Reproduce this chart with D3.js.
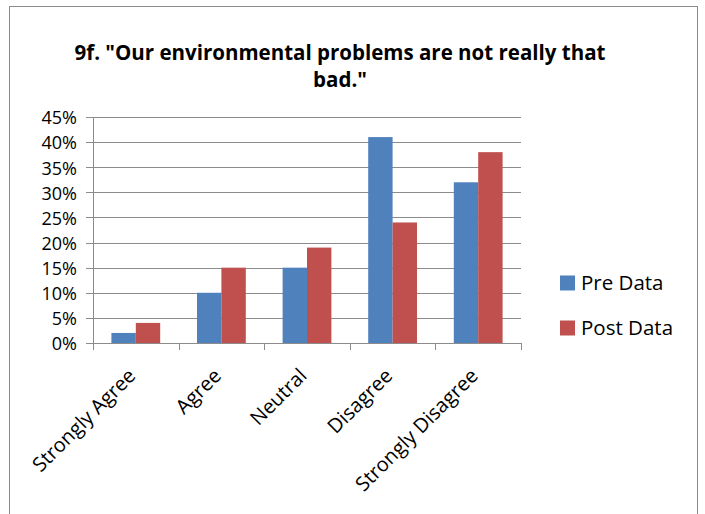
<!DOCTYPE html>
<html>
<head>
<meta charset="utf-8">
<script src="https://cdn.jsdelivr.net/npm/d3@7"></script>
<style>
  body { margin: 0; background: #fff; }
  text { font-family: "Open Sans", "DejaVu Sans", sans-serif; fill: #000; }
</style>
</head>
<body>
<div id="chart"></div>
<script>
var w = 705, h = 514;

var categories = ["Strongly Agree", "Agree", "Neutral", "Disagree", "Strongly Disagree"];
var seriesNames = ["Pre Data", "Post Data"];
var preData = [0.02, 0.10, 0.15, 0.41, 0.32];
var postData = [0.04, 0.15, 0.19, 0.24, 0.38];
var yTicks = [0, 0.05, 0.10, 0.15, 0.20, 0.25, 0.30, 0.35, 0.40, 0.45];
var colors = ["#4F81BD", "#C0504D"];

var plotL = 93, plotR = 521, plotT = 117, plotB = 343;

var svg = d3.select("#chart").append("svg")
    .attr("width", w)
    .attr("height", h);

// outer frame
svg.append("rect")
    .attr("x", 9.5).attr("y", 6.5)
    .attr("width", 688).attr("height", 520)
    .attr("fill", "none").attr("stroke", "#8c8c8c");

// title
var title = svg.append("g").attr("font-weight", "bold").attr("font-size", 20.5);
title.append("text").attr("x", 340).attr("y", 60).attr("text-anchor", "middle")
    .text('9f. "Our environmental problems are not really that');
title.append("text").attr("x", 340).attr("y", 87).attr("text-anchor", "middle")
    .text('bad."');

var x0 = d3.scaleBand().domain(categories).range([plotL, plotR]).paddingInner(0.43).paddingOuter(0.215);
var x1 = d3.scaleBand().domain(seriesNames).range([0, x0.bandwidth()]);
var y = d3.scaleLinear().domain([0, 0.45]).range([plotB, plotT]);

// gridlines
svg.append("g").selectAll("line").data(yTicks).enter().append("line")
    .attr("x1", plotL - 7).attr("x2", plotR)
    .attr("y1", function(d) { return Math.round(y(d)) + 0.5; })
    .attr("y2", function(d) { return Math.round(y(d)) + 0.5; })
    .attr("stroke", "#8c8c8c").attr("stroke-width", 1);

// y labels
svg.append("g").selectAll("text").data(yTicks).enter().append("text")
    .attr("x", 77).attr("y", function(d) { return y(d) + 1; })
    .attr("dy", "0.35em").attr("text-anchor", "end")
    .attr("font-size", 18)
    .text(function(d) { return d3.format(".0%")(d); });

// bars
var groups = svg.append("g").selectAll("g").data(categories).enter().append("g")
    .attr("transform", function(d) { return "translate(" + x0(d) + ",0)"; });
groups.selectAll("rect")
    .data(function(d, i) { return [preData[i], postData[i]]; })
    .enter().append("rect")
    .attr("x", function(d, j) { return x1(seriesNames[j]); })
    .attr("y", function(d) { return y(d); })
    .attr("width", x1.bandwidth())
    .attr("height", function(d) { return plotB - y(d); })
    .attr("fill", function(d, j) { return colors[j]; });

// axes lines
svg.append("line").attr("x1", plotL + 0.5).attr("x2", plotL + 0.5)
    .attr("y1", plotT).attr("y2", plotB + 7).attr("stroke", "#8c8c8c");
svg.append("line").attr("x1", plotL).attr("x2", plotR)
    .attr("y1", plotB + 0.5).attr("y2", plotB + 0.5).attr("stroke", "#8c8c8c");
var step = (plotR - plotL) / categories.length;
svg.append("g").selectAll("line").data(d3.range(categories.length + 1)).enter().append("line")
    .attr("x1", function(i) { return Math.round(plotL + i * step) + 0.5; })
    .attr("x2", function(i) { return Math.round(plotL + i * step) + 0.5; })
    .attr("y1", plotB).attr("y2", plotB + 7)
    .attr("stroke", "#8c8c8c");

// x labels
svg.append("g").selectAll("text").data(categories).enter().append("text")
    .attr("transform", function(d) {
      return "translate(" + (x0(d) + x0.bandwidth() / 2 + 1) + "," + (plotB + 34) + ") rotate(-45)";
    })
    .attr("text-anchor", "end")
    .attr("font-size", 20)
    .text(function(d) { return d; });

// legend
var legend = svg.append("g").selectAll("g").data(seriesNames).enter().append("g")
    .attr("transform", function(d, i) { return "translate(560," + (283 + i * 45) + ")"; });
legend.append("rect").attr("x", 0).attr("y", -7.5).attr("width", 15).attr("height", 15)
    .attr("fill", function(d, i) { return colors[i]; });
legend.append("text").attr("x", 21).attr("y", 0).attr("dy", "0.35em")
    .attr("font-size", 20.5)
    .text(function(d) { return d; });
</script>
</body>
</html>
